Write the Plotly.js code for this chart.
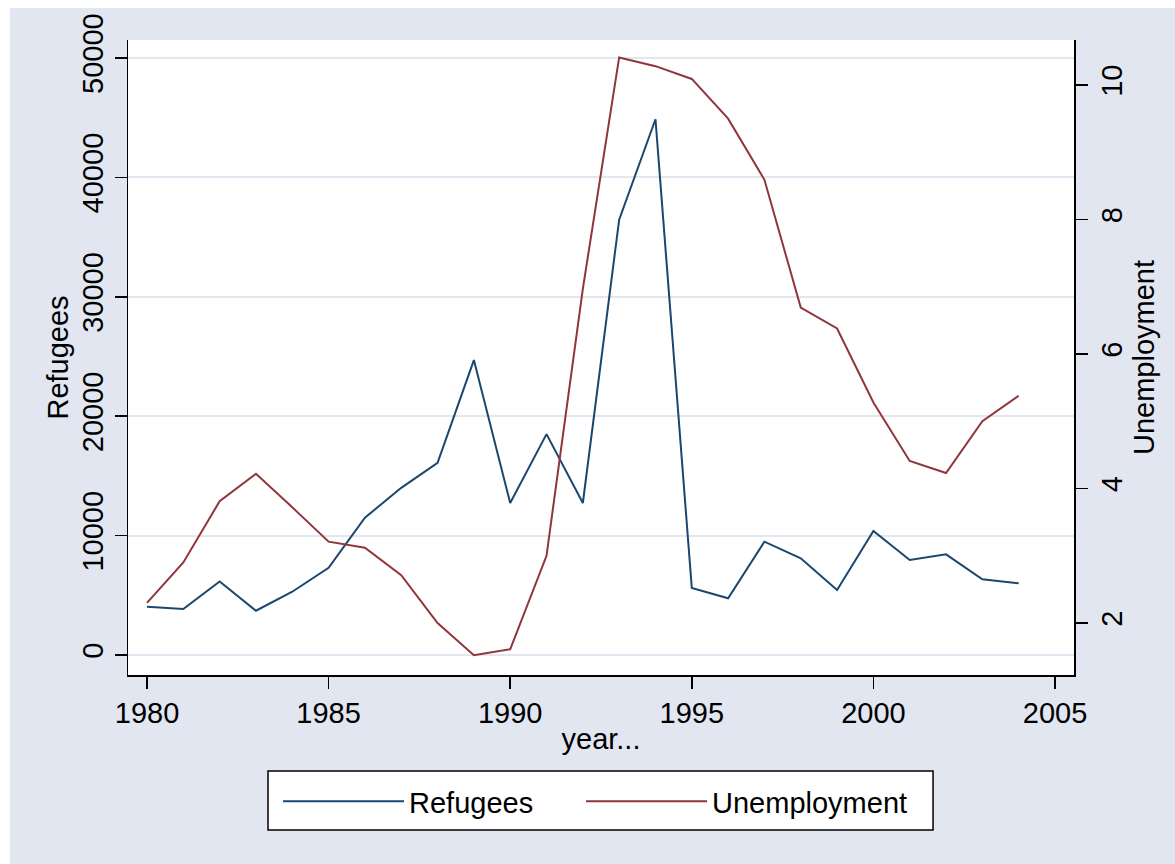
<!DOCTYPE html>
<html>
<head>
<meta charset="utf-8">
<script src="https://cdn.plot.ly/plotly-3.0.1.min.js"></script>
<style>
  html, body { margin: 0; padding: 0; background: #ffffff; }
  #chart { position: absolute; left: 10px; top: 8px; width: 1165px; height: 856px; }
</style>
</head>
<body>
<div id="chart"></div>
<script>
const years = [1980,1981,1982,1983,1984,1985,1986,1987,1988,1989,1990,1991,1992,1993,1994,1995,1996,1997,1998,1999,2000,2001,2002,2003,2004];
const refugees = [4050,3850,6150,3710,5300,7300,11500,14000,16100,24700,12730,18500,12730,36450,44870,5610,4750,9490,8100,5440,10390,7960,8430,6340,6000];
const unemployment = [2.30,2.90,3.81,4.22,3.72,3.21,3.12,2.71,2.00,1.52,1.61,3.00,6.97,10.41,10.28,10.09,9.50,8.59,6.69,6.38,5.28,4.41,4.23,5.00,5.38];
const xTicks = [1980,1985,1990,1995,2000,2005];
const y1Ticks = [0,10000,20000,30000,40000,50000];
const y2Ticks = [2,4,6,8,10];

const FONT = 'Arial, "Liberation Sans", sans-serif';
const BG = '#e1e6f0';

const traces = [
  {x: years, y: refugees, name: 'Refugees', type: 'scatter', mode: 'lines',
   line: {color: '#1a476f', width: 2}, yaxis: 'y', legend: 'legend'},
  {x: years, y: unemployment, name: 'Unemployment', type: 'scatter', mode: 'lines',
   line: {color: '#90353b', width: 2}, yaxis: 'y2', legend: 'legend2'}
];

const legendBase = {
  orientation: 'h', xanchor: 'left', y: -0.1590, yanchor: 'top',
  bgcolor: 'rgba(0,0,0,0)', borderwidth: 0,
  font: {family: FONT, size: 29, color: '#000000'},
  itemwidth: 121
};

const layout = {
  width: 1165, height: 856,
  paper_bgcolor: BG, plot_bgcolor: '#ffffff',
  margin: {l: 118, r: 101, t: 32, b: 189},
  font: {family: FONT, size: 29, color: '#000000'},
  showlegend: true,
  legend: Object.assign({}, legendBase, {x: 0.1586}),
  legend2: Object.assign({}, legendBase, {x: 0.4789}),
  shapes: [
    {type: 'rect', xref: 'paper', yref: 'paper', x0: 0.1480, x1: 0.8510, y0: -0.2441, y1: -0.1512,
     fillcolor: '#ffffff', line: {color: '#000000', width: 1.5}, layer: 'above'}
  ],
  xaxis: {
    range: [1979.477, 2005.523], tickmode: 'array', tickvals: xTicks, tickformat: 'd',
    ticks: 'outside', ticklen: 12, tickwidth: 1.5, tickcolor: '#000',
    showline: true, linecolor: '#000', linewidth: 1.5, showgrid: false, zeroline: false,
    title: {text: 'year...', standoff: 0, font: {family: FONT, size: 29}}
  },
  yaxis: {
    range: [-1675, 51507], tickmode: 'array', tickvals: y1Ticks, tickformat: 'd',
    tickangle: -90, ticks: 'outside', ticklen: 12, tickwidth: 1.5, tickcolor: '#000',
    showline: true, linecolor: '#000', linewidth: 1.5,
    showgrid: true, gridcolor: BG, gridwidth: 2, zeroline: false,
    title: {text: 'Refugees', standoff: 0, font: {family: FONT, size: 29}}
  },
  yaxis2: {
    range: [1.227, 10.669], tickmode: 'array', tickvals: y2Ticks, tickformat: 'd',
    overlaying: 'y', side: 'right',
    tickangle: -90, ticks: 'outside', ticklen: 12, tickwidth: 1.5, tickcolor: '#000',
    showline: true, linecolor: '#000', linewidth: 1.5, showgrid: false, zeroline: false,
    title: {text: 'Unemployment', standoff: 0, font: {family: FONT, size: 29}}
  }
};

Plotly.newPlot('chart', traces, layout, {displayModeBar: false, staticPlot: true});
</script>
</body>
</html>
